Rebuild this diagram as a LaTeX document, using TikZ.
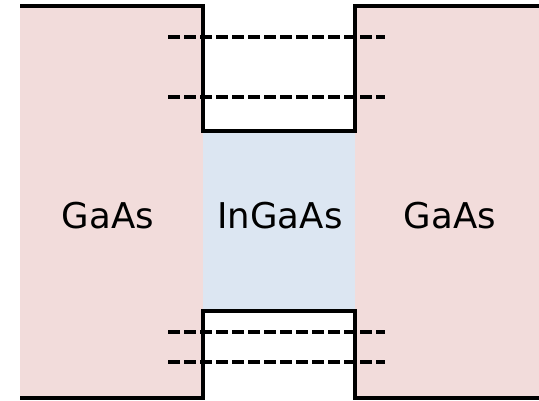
\documentclass[tikz,border=0pt]{standalone}
\usepackage{fontspec}
\setmainfont{DejaVu Sans}
\definecolor{gaaspink}{HTML}{F2DCDB}
\definecolor{ingaasblue}{HTML}{DCE6F2}
\begin{document}
\begin{tikzpicture}[x=1pt,y=1pt,
        band/.style={line width=3.5pt},
        level/.style={line width=3.5pt,dash pattern=on 12pt off 4pt},
        every node/.style={font=\fontsize{35.5}{40}\selectfont}]
    \useasboundingbox (0,0) rectangle (539,400);

    \fill[gaaspink]   (20,2)   rectangle (203,394);
    \fill[gaaspink]   (355,2)  rectangle (539,394);
    \fill[ingaasblue] (203,89) rectangle (355,269);

    \draw[band] (20,394) -- (203,394) -- (203,269) -- (355,269) -- (355,394) -- (539,394);
    \draw[band] (20,2)   -- (203,2)   -- (203,89)  -- (355,89)  -- (355,2)   -- (539,2);

    % levels in the well
    \draw[level] (168,363) -- (385,363);
    \draw[level] (168,303) -- (385,303);
    \draw[level] (168,68)  -- (385,68);
    \draw[level] (168,38)  -- (385,38);

    \node (gaasleft)  at (108,184) {GaAs};
    \node (ingaas)    at (280,184) {InGaAs};
    \node (gaasright) at (450,184) {GaAs};
\end{tikzpicture}
\end{document}
